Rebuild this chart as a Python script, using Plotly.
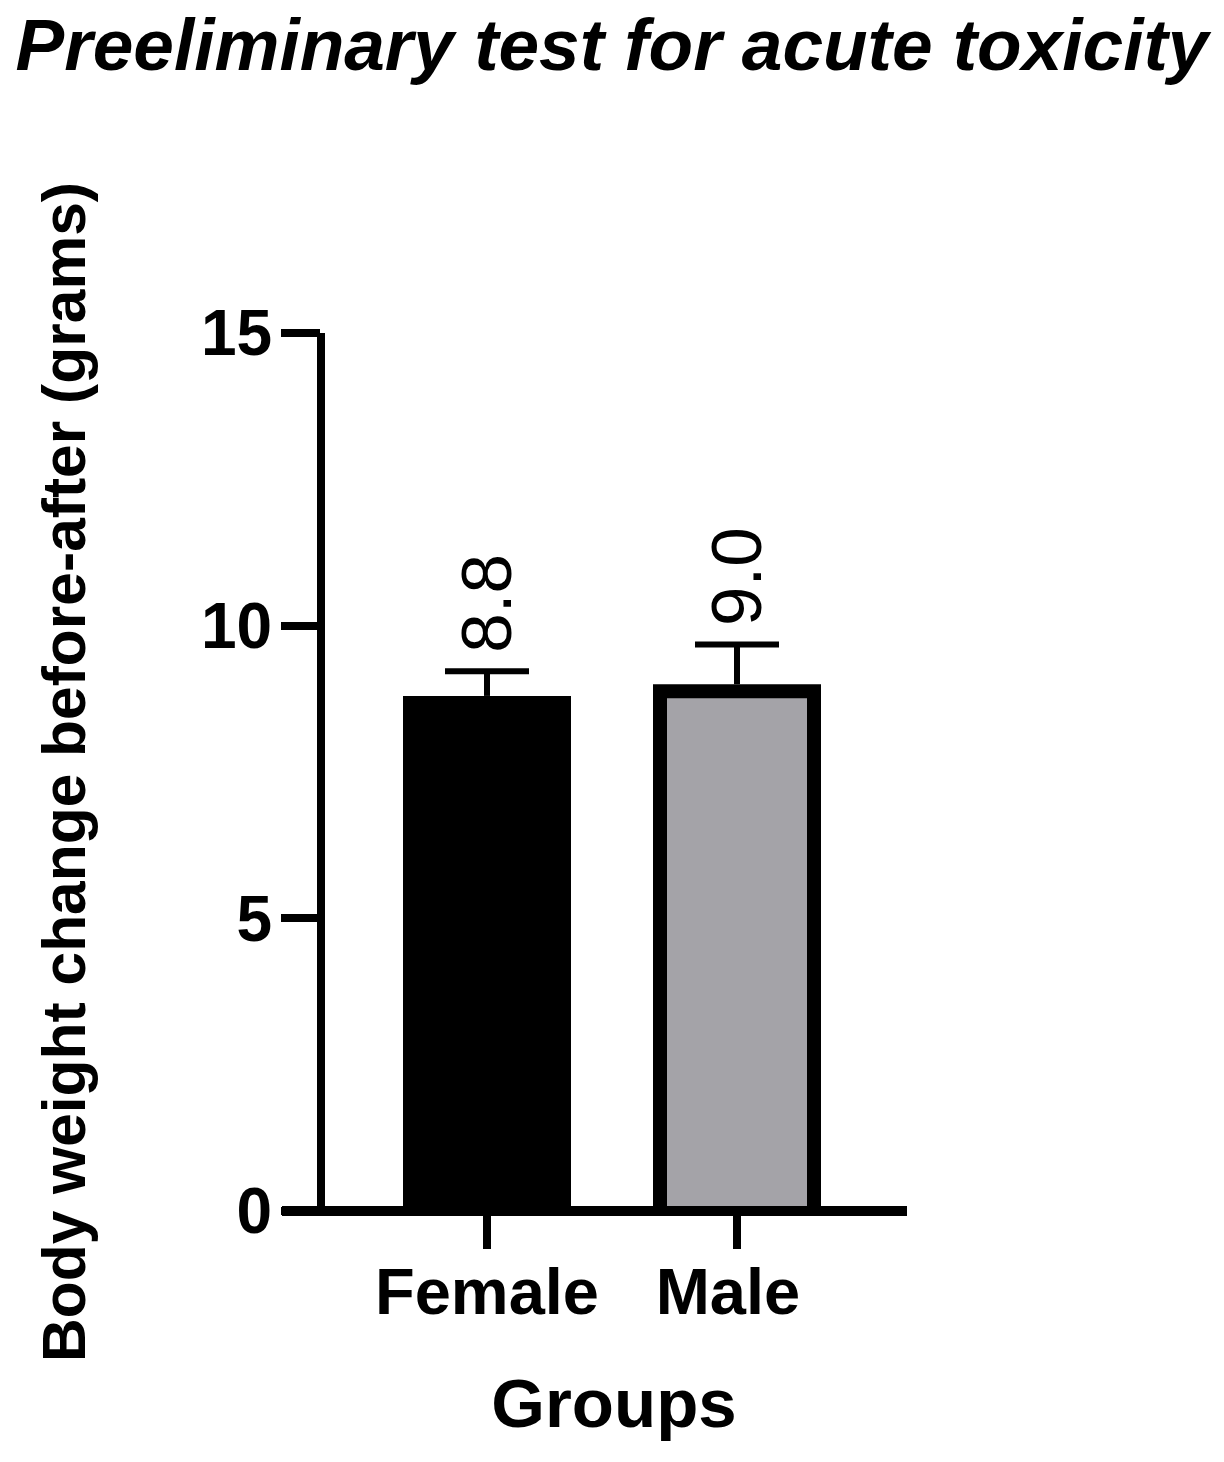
import plotly.graph_objects as go

# Data
groups = ["Female", "Male"]
means = [8.8, 9.0]
errors = [0.42, 0.68]
labels = ["8.8", "9.0"]
fill_colors = ["#000000", "#a4a3a8"]

y_ticks = [0, 5, 10, 15]

FONT = "Arial, 'Liberation Sans', sans-serif"
W, H = 1224, 1462
L, R, T, B = 321, 317, 332.5, 251
plot_w = W - L - R
plot_h = H - T - B
px_per_unit_y = plot_h / 15.0
px_per_unit_x = 250.0
border_px = 14
bar_w = 168 / px_per_unit_x
x_range = [-(487 - L) / px_per_unit_x, (W - R - 487) / px_per_unit_x]

fig = go.Figure()

# outer black bars (carry the vertical error line, no caps)
fig.add_trace(go.Bar(
    x=[0, 1], y=means, width=bar_w,
    marker=dict(color="#000000", line=dict(width=0)),
    error_y=dict(type="data", array=errors, arrayminus=[0, 0], symmetric=False,
                 color="#000000", thickness=6, width=0),
    showlegend=False, hoverinfo="skip",
))
# inner fill (inset by the border thickness)
inset_y = border_px / px_per_unit_y
inset_w = bar_w - 2 * border_px / px_per_unit_x
fig.add_trace(go.Bar(
    x=[0, 1], y=[m - inset_y for m in means], width=inset_w,
    marker=dict(color=fill_colors, line=dict(width=0)),
    showlegend=False, hoverinfo="skip",
))
# error caps (top only)
fig.add_trace(go.Scatter(
    x=[0, 1], y=[m + e for m, e in zip(means, errors)], mode="markers",
    marker=dict(size=1, opacity=0),
    error_y=dict(type="data", array=[0, 0], arrayminus=[0, 0], symmetric=False,
                 color="#000000", thickness=6, width=42),
    showlegend=False, hoverinfo="skip",
))

for i, (m, e, lab) in enumerate(zip(means, errors, labels)):
    fig.add_annotation(
        x=i, y=m + e, text=lab, showarrow=False, textangle=-90,
        xanchor="center", yanchor="bottom", yshift=16,
        font=dict(family=FONT, size=71, color="#000000"),
    )

# axis lines (paper coordinates so they are not clipped by the plot area)
fig.add_shape(type="line", xref="paper", yref="paper", x0=-(L - 282) / plot_w, x1=1,
              y0=0, y1=0, line=dict(color="#000000", width=10), layer="above")
fig.add_shape(type="line", xref="paper", yref="paper", x0=0, x1=0,
              y0=0, y1=1, line=dict(color="#000000", width=8), layer="above")

fig.update_layout(
    width=W, height=H,
    margin=dict(l=L, r=R, t=T, b=B, pad=0),
    paper_bgcolor="#ffffff", plot_bgcolor="#ffffff",
    barmode="overlay",
    title=dict(text="Preeliminary test for acute toxicity", x=0.5, xanchor="center",
               y=1 - 19 / H, yanchor="top",
               font=dict(family=FONT, size=73, color="#000000", weight="bold", style="italic")),
    xaxis=dict(
        range=x_range, tickmode="array", tickvals=[0, 1], ticktext=["Female", "Male\u00a0"],
        showline=False, showgrid=False, zeroline=False,
        ticks="outside", ticklen=37, tickwidth=8, tickcolor="#000000",
        ticklabelstandoff=-13,
        tickfont=dict(family=FONT, size=65, color="#000000", weight="bold"),
        title=dict(text="Groups", font=dict(family=FONT, size=69, color="#000000", weight="bold"),
                   standoff=51),
    ),
    yaxis=dict(
        range=[0, 15], tickmode="array", tickvals=y_ticks,
        showline=False, showgrid=False, zeroline=False,
        ticks="outside", ticklen=39, tickwidth=8, tickcolor="#000000",
        ticklabelstandoff=-4,
        tickfont=dict(family=FONT, size=64, color="#000000", weight="bold"),
        title=dict(text="Body weight change before-after (grams)",
                   font=dict(family=FONT, size=60.5, color="#000000", weight="bold"),
                   standoff=95),
    ),
)

fig.write_html("out.html")
